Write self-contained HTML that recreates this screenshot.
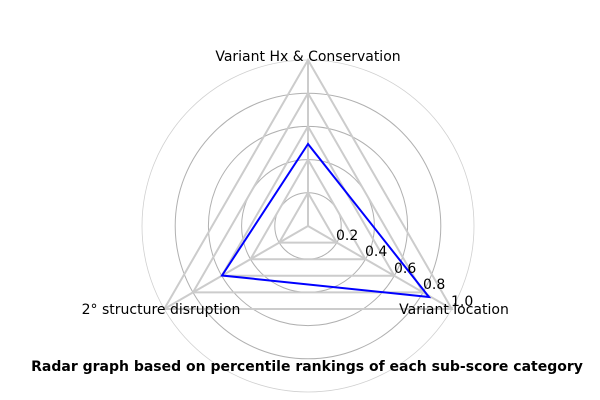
<!DOCTYPE html>
<html><head><style>body{margin:0;background:#fff}svg{display:block}</style></head>
<body>
<svg width="600" height="400" viewBox="0 0 600 400" xmlns="http://www.w3.org/2000/svg" font-family="'DejaVu Sans','Liberation Sans',sans-serif">
<g fill="none" stroke="#b0b0b0" stroke-width="1">
<circle cx="308" cy="226" r="33.2"/>
<circle cx="308" cy="226" r="66.4"/>
<circle cx="308" cy="226" r="99.6"/>
<circle cx="308" cy="226" r="132.8"/>
<circle cx="308" cy="226" r="166" stroke="#d0d0d0" stroke-width="0.8"/>
</g>
<g fill="none" stroke="#cccccc" stroke-width="2">
<polygon points="308,192.8 279.2,242.6 336.8,242.6"/>
<polygon points="308,159.6 250.5,259.2 365.5,259.2"/>
<polygon points="308,126.4 221.7,275.8 394.3,275.8"/>
<polygon points="308,93.2 193,292.4 423,292.4"/>
<polygon points="308,60 164.2,309 451.8,309"/>
<line x1="308" y1="226" x2="308" y2="60"/>
<line x1="308" y1="226" x2="164.2" y2="309"/>
<line x1="308" y1="226" x2="451.8" y2="309"/>
</g>
<polygon points="308,144 222,275.5 429,297" fill="none" stroke="#0000ff" stroke-width="2"/>
<g font-size="14" fill="#000">
<text x="336" y="240">0.2</text>
<text x="365" y="256">0.4</text>
<text x="394" y="273">0.6</text>
<text x="423" y="289">0.8</text>
<text x="451" y="306">1.0</text>
<text x="308" y="61" text-anchor="middle">Variant Hx &amp; Conservation</text>
<text x="161" y="314" text-anchor="middle">2° structure disruption</text>
<text x="454" y="314" text-anchor="middle">Variant location</text>
<text x="307" y="371" text-anchor="middle" font-weight="bold">Radar graph based on percentile rankings of each sub-score category</text>
</g>
</svg>
</body></html>
